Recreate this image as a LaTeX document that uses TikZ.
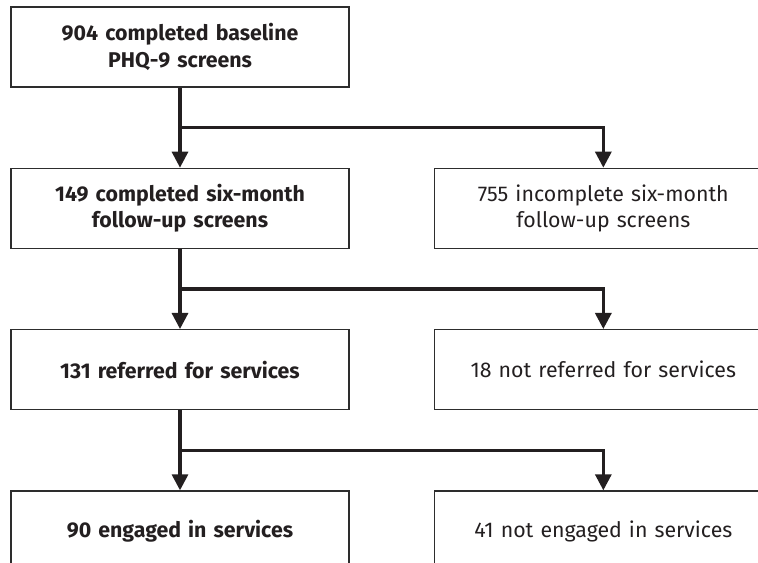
\documentclass[tikz,border=0pt]{standalone}
\usepackage{fontspec}
\setmainfont{Fira Sans}
\usepackage{tikz}
\usetikzlibrary{arrows.meta, positioning}
\definecolor{InkBlack}{RGB}{35,31,32}
\definecolor{FrameGrey}{RGB}{45,45,45}

\begin{document}
\begin{tikzpicture}[
    node distance = 60pt and 63pt,
    box/.style = {rectangle, draw=FrameGrey, line width=1pt, minimum width=253.5pt, minimum height=60pt, text width=245pt, align=center, text=InkBlack, font=\fontsize{16}{20}\selectfont},
    kept/.style = {box, font=\fontsize{16}{20}\selectfont\bfseries},
    lost/.style = {box},
    link/.style = {draw=InkBlack, line width=2.4pt, -{Triangle[width=12pt,length=12pt]}},
    split/.style = {draw=InkBlack, line width=2.4pt}
]
% Page frame: right column runs off the page
\useasboundingbox (0,0) rectangle (568.5pt,-422.25pt);
\clip (0,0) rectangle (568.5pt,-422.25pt);
% Left column
\node[kept] (baseline) at (135pt,-35.25pt) {904 completed baseline\\PHQ-9 screens};
\node[kept, below=of baseline] (done) {149 completed six-month\\follow-up screens};
\node[kept, below=of done] (referred) {131 referred for services};
\node[kept, below=of referred] (engaged) {90 engaged in services};
% Right column
\node[lost, right=of done] (undone) {755 incomplete six-month\\follow-up screens};
\node[lost, right=of referred] (unreferred) {18 not referred for services};
\node[lost, right=of engaged] (unengaged) {41 not engaged in services};

% Connectors with side branches
\draw[link] (baseline.south) -- coordinate[midway] (s1) (done.north);
\draw[link] (done.south) -- coordinate[midway] (s2) (referred.north);
\draw[link] (referred.south) -- coordinate[midway] (s3) (engaged.north);
\draw[link] (s1) -| (undone.north);
\draw[link] (s2) -| (unreferred.north);
\draw[link] (s3) -| (unengaged.north);
\end{tikzpicture}
\end{document}
